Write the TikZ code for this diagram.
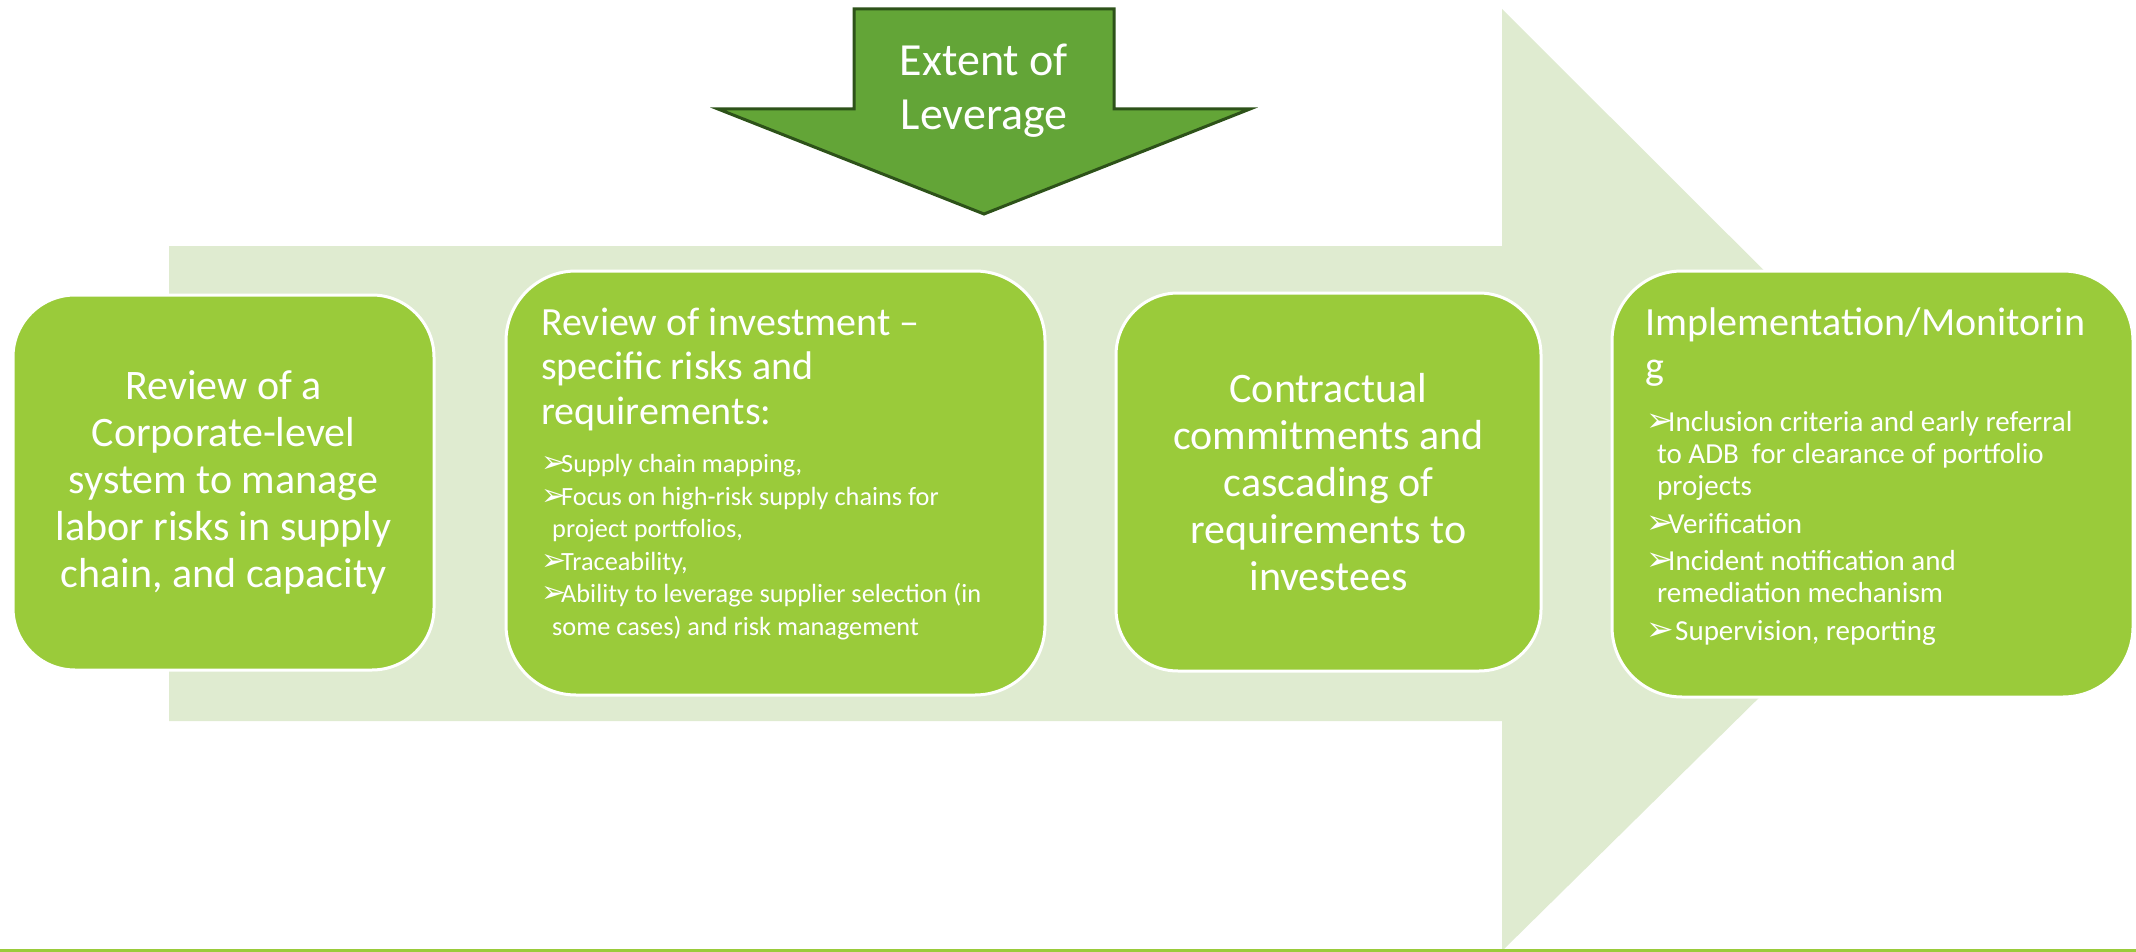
\documentclass[tikz,border=0pt]{standalone}
\usepackage{fontspec}
\setmainfont{Carlito}
\newfontfamily\dejavu{DejaVu Sans}
\definecolor{bgarrow}{HTML}{DFEBD0}
\definecolor{boxgreen}{HTML}{9ACB3A}
\definecolor{darrowfill}{HTML}{63A537}
\definecolor{darrowline}{HTML}{2D5219}
\newcommand{\bul}[2]{\makebox[#1][l]{\dejavu\fontsize{#2}{#2}\selectfont ➢}}
\begin{document}
\begin{tikzpicture}[x=1pt,y=-1pt,
  card/.style={draw=white, line width=3pt, fill=boxgreen, rounded corners=#1, inner sep=0pt},
  txt/.style={text=white, inner sep=0pt},
  bigarrow/.style={fill=bgarrow},
  downarrow/.style={fill=darrowfill, draw=darrowline, line width=3pt, line join=miter}]
\useasboundingbox (0,0) rectangle (2136,952);
% background process arrow
\path[bigarrow] (169,246) -- (1502,246) -- (1502,9) -- (1977,483) -- (1502,951) -- (1502,721) -- (169,721) -- cycle;
% bottom rule
\draw[boxgreen, line width=2.5pt] (0,950.5) -- (2136,950.5);
% boxes
\node[card=62pt, minimum width=421pt, minimum height=375pt] (b1) at (223.5,482.5) {};
\node[card=70pt, minimum width=539pt, minimum height=424pt] (b2) at (775.5,483) {};
\node[card=62pt, minimum width=425pt, minimum height=378pt] (b3) at (1328.5,482) {};
\node[card=70pt, minimum width=521pt, minimum height=426pt] (b4) at (1872.5,484) {};
% box texts
\node[txt, font=\fontsize{42}{47}\selectfont, align=center] (t1) at (b1.center)
  {Review of a\\Corporate-level\\system to manage\\labor risks in supply\\chain, and capacity};
\node[txt, font=\fontsize{40}{44.5}\selectfont, align=left, anchor=base west] (t2) at (541,424)
  {Review of investment –\\specific risks and\\requirements:};
\node[txt, font=\fontsize{26.3}{32.5}\selectfont, align=left, anchor=base west] (l2) at (541,635)
  {\bul{20pt}{30}Supply chain mapping,\\
   \bul{20pt}{30}Focus on high-risk supply chains for\\
   \hspace*{11pt}project portfolios,\\
   \bul{20pt}{30}Traceability,\\
   \bul{20pt}{30}Ability to leverage supplier selection (in\\
   \hspace*{11pt}some cases) and risk management};
\node[txt, font=\fontsize{42}{47}\selectfont, align=center] (t3) at (b3.center)
  {Contractual\\commitments and\\cascading of\\requirements to\\investees};
\node[txt, font=\fontsize{40}{44}\selectfont, align=left, anchor=base west] (t4) at (1645,379)
  {Implementation/Monitorin\\g};
\node[txt, font=\fontsize{29}{32}\selectfont, align=left, anchor=base west] (l4) at (1646,640)
  {\bul{22pt}{33}Inclusion criteria and early referral\\
   \hspace*{11pt}to ADB\ \ for clearance of portfolio\\
   \hspace*{11pt}projects\\[5.5pt]
   \bul{22pt}{33}Verification\\[5.5pt]
   \bul{22pt}{33}Incident notification and\\
   \hspace*{11pt}remediation mechanism\\[5.5pt]
   \bul{29pt}{33}Supervision, reporting};
% extent of leverage arrow
\draw[downarrow] (854,9) -- (1114,9) -- (1114,109) -- (1250,109) -- (984,214) -- (718,109) -- (854,109) -- cycle;
\node[txt, font=\fontsize{46}{54}\selectfont, align=center, anchor=base] (lev) at (984,130) {Extent of\\Leverage};
\end{tikzpicture}
\end{document}
